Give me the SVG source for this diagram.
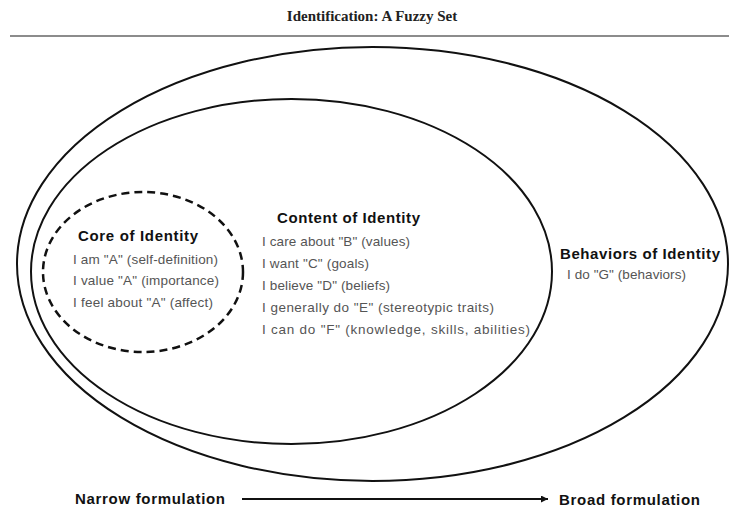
<svg xmlns="http://www.w3.org/2000/svg" width="729" height="519" viewBox="0 0 729 519">
<defs>
<style>
.ring{fill:none;stroke:#111;stroke-width:2}
.dash{fill:none;stroke:#111;stroke-width:2.5;stroke-dasharray:8 5}
.h{font-family:"Liberation Sans",Arial,sans-serif;font-weight:bold;font-size:15px;fill:#111}
.t{font-family:"Liberation Sans",Arial,sans-serif;font-size:13.5px;fill:#555}
.title{font-family:"Liberation Serif","Times New Roman",serif;font-weight:bold;font-size:15px;fill:#222}
</style>
<marker id="ah" viewBox="0 0 10 10" refX="10" refY="5" markerWidth="9" markerHeight="7" markerUnits="userSpaceOnUse" orient="auto">
<path d="M0,0 L10,5 L0,10 z" fill="#111"/>
</marker>
</defs>
<rect width="729" height="519" fill="#fff"/>
<text class="title" x="372" y="21" text-anchor="middle">Identification: A Fuzzy Set</text>
<line x1="10" y1="36" x2="729" y2="36" stroke="#666" stroke-width="1.5"/>

<g id="behaviors">
<ellipse class="ring" cx="372.5" cy="264" rx="355.5" ry="217"/>
<text class="h" x="560" y="259" textLength="160" lengthAdjust="spacing">Behaviors of Identity</text>
<text class="t" x="567" y="279" textLength="119" lengthAdjust="spacing">I do "G" (behaviors)</text>
</g>

<g id="content">
<ellipse class="ring" cx="291.5" cy="271.5" rx="260.5" ry="172.5"/>
<text class="h" x="277" y="223" textLength="143" lengthAdjust="spacing">Content of Identity</text>
<text class="t" x="262" y="246" textLength="148" lengthAdjust="spacing">I care about "B" (values)</text>
<text class="t" x="262" y="268" textLength="107" lengthAdjust="spacing">I want "C" (goals)</text>
<text class="t" x="262" y="290" textLength="128" lengthAdjust="spacing">I believe "D" (beliefs)</text>
<text class="t" x="262" y="312" textLength="232" lengthAdjust="spacing">I generally do "E" (stereotypic traits)</text>
<text class="t" x="262" y="334" textLength="268" lengthAdjust="spacing">I can do "F" (knowledge, skills, abilities)</text>
</g>

<g id="core">
<ellipse class="dash" cx="143" cy="272" rx="100" ry="80"/>
<text class="h" x="78" y="241" textLength="120" lengthAdjust="spacing">Core of Identity</text>
<text class="t" x="73" y="264" textLength="145" lengthAdjust="spacing">I am "A" (self-definition)</text>
<text class="t" x="73" y="285" textLength="146" lengthAdjust="spacing">I value "A" (importance)</text>
<text class="t" x="73" y="307" textLength="140" lengthAdjust="spacing">I feel about "A" (affect)</text>
</g>

<g id="narrow">
<text class="h" x="75" y="504" textLength="150" lengthAdjust="spacing">Narrow formulation</text>
</g>
<g id="broad">
<text class="h" x="559" y="505" textLength="141" lengthAdjust="spacing">Broad formulation</text>
</g>

<g id="connectors">
<line x1="242" y1="499" x2="548" y2="499" stroke="#111" stroke-width="1.8" marker-end="url(#ah)"/>
</g>
</svg>
